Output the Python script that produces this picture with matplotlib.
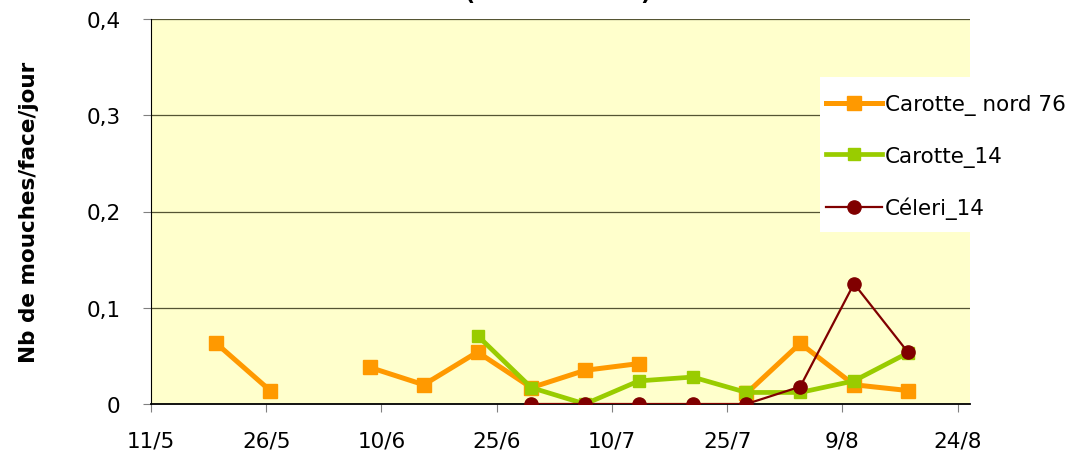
import numpy as np
import pandas as pd
import matplotlib
matplotlib.use('Agg')
import matplotlib.pyplot as plt
import matplotlib.dates as mdates
from matplotlib.patches import Rectangle

plt.rcParams['font.family'] = ['DejaVu Sans']

#===============================================================================
# data
#===============================================================================
dates_nord76 = ['2009-05-19', '2009-05-26', '2009-06-01', '2009-06-08', '2009-06-15',
                '2009-06-22', '2009-06-29', '2009-07-06', '2009-07-13', '2009-07-20',
                '2009-07-27', '2009-08-03', '2009-08-10', '2009-08-17']
carotte_nord76 = [0.063, 0.014, np.nan, 0.038, 0.020, 0.054, 0.017, 0.035, 0.042,
                  np.nan, 0.011, 0.063, 0.020, 0.014]

dates_14 = ['2009-06-22', '2009-06-29', '2009-07-06', '2009-07-13', '2009-07-20',
            '2009-07-27', '2009-08-03', '2009-08-10', '2009-08-17']
carotte_14 = [0.071, 0.017, 0.0, 0.024, 0.028, 0.012, 0.012, 0.024, 0.053]

dates_celeri = ['2009-06-29', '2009-07-06', '2009-07-13', '2009-07-20',
                '2009-07-27', '2009-08-03', '2009-08-10', '2009-08-17']
celeri_14 = [0.0, 0.0, 0.0, 0.0, 0.0, 0.018, 0.125, 0.054]

tick_dates = ['2009-05-11', '2009-05-26', '2009-06-10', '2009-06-25',
              '2009-07-10', '2009-07-25', '2009-08-09', '2009-08-24']
tick_labels = ['11/5', '26/5', '10/6', '25/6', '10/7', '25/7', '9/8', '24/8']
yticks = [0, 0.1, 0.2, 0.3, 0.4]
ytick_labels = ['0', '0,1', '0,2', '0,3', '0,4']


def to_x(d):
    #excel date axis puts the points in the middle of the day
    return mdates.date2num(pd.to_datetime(d)) + 0.5


#===============================================================================
# figure
#===============================================================================
W, H = 1085, 456
fig = plt.figure(figsize=(W/100, H/100), dpi=100)
ax = fig.add_axes([151/W, 1 - 405/H, (970 - 151)/W, (405 - 20)/H])
ax.set_facecolor('#FFFFCC')

ax.plot(to_x(dates_nord76), carotte_nord76, color='#FF9900', lw=3.6, marker='s',
        ms=10, label='Carotte_ nord 76', zorder=3)
ax.plot(to_x(dates_14), carotte_14, color='#99CC00', lw=3.4, marker='s',
        ms=8, label='Carotte_14', zorder=4)
ax.plot(to_x(dates_celeri), celeri_14, color='#800000', lw=1.6, marker='o',
        ms=9.5, label='Céleri_14', zorder=5)

ax.set_xlim(mdates.date2num(pd.to_datetime('2009-05-11')),
            mdates.date2num(pd.to_datetime('2009-08-25')) + 0.6)
ax.set_ylim(0, 0.4)

ax.set_xticks(mdates.date2num(pd.to_datetime(tick_dates)))
ax.set_xticklabels(tick_labels, fontsize=15.5)
ax.set_yticks(yticks)
ax.set_yticklabels(ytick_labels, fontsize=15.5)
ax.tick_params(axis='x', length=6, color='#808080', pad=13)
ax.tick_params(axis='y', length=6, color='#808080', pad=16)

for y in yticks[1:]:
    ax.axhline(y, color='#555533', lw=0.9, zorder=1)

for s in ['top', 'right']:
    ax.spines[s].set_visible(False)
ax.spines['left'].set_color('black')
ax.spines['bottom'].set_color('black')
ax.spines['bottom'].set_linewidth(1.3)

ax.set_ylabel('Nb de mouches/face/jour', fontsize=15.5, fontweight='bold', labelpad=34)

#legend: white box clipped to the plot area, text running past it
ax.add_patch(Rectangle(((820 - 151)/819, (405 - 233)/385), (970 - 820)/819, (233 - 78)/385,
                       transform=ax.transAxes, facecolor='white', edgecolor='none',
                       zorder=6))
leg = ax.legend(loc='upper left', bbox_to_anchor=(819.5/W, 1 - 89/H),
                bbox_transform=fig.transFigure, frameon=False, fontsize=15.5,
                handlelength=2.6, labelspacing=1.4, borderpad=0.3, handletextpad=0.15,
                borderaxespad=0)
leg.set_zorder(7)

#title cut off by the top of the picture: only the bottom of the brackets shows
fig.text(469/W, 1.0, '(', ha='center', va='baseline', fontsize=16, fontweight='bold')
fig.text(645/W, 1.0, ')', ha='center', va='baseline', fontsize=16, fontweight='bold')

fig.savefig('out.png', dpi=100)
